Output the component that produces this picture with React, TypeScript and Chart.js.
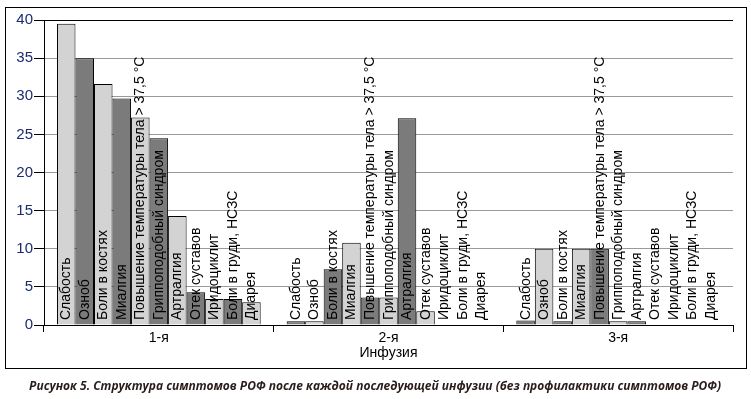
import React, { useEffect, useRef } from 'react';
import { Chart, registerables } from 'chart.js';

Chart.register(...registerables);

const infusions = ['1-я', '2-я', '3-я'];
const symptoms = [
  'Слабость',
  'Озноб',
  'Боли в костях',
  'Миалгия',
  'Повышение температуры тела > 37,5 °C',
  'Гриппоподобный синдром',
  'Артралгия',
  'Отек суставов',
  'Иридоциклит',
  'Боли в груди, НСЗС',
  'Диарея',
];
const infusion1 = [39.5, 35.0, 31.6, 29.7, 27.2, 24.5, 14.3, 4.3, 3.4, 3.4, 3.0];
const infusion2 = [0.5, 0.5, 7.3, 10.8, 3.6, 3.6, 27.1, 1.8, 0, 0, 0];
const infusion3 = [0.6, 10.0, 0.5, 10.0, 10.0, 0.5, 0.5, 0, 0, 0, 0];
const yTicks = [0, 5, 10, 15, 20, 25, 30, 35, 40];
const axisTitle = 'Инфузия';
const caption =
  'Рисунок 5. Структура симптомов РОФ после каждой последующей инфузии (без профилактики симптомов РОФ)';

const LIGHT = '#d3d3d3';
const DARK = '#7b7b7b';
const FONT = 'Arial, "Liberation Sans", Helvetica, sans-serif';

const barLabels = {
  id: 'barLabels',
  afterDatasetsDraw(chart: any) {
    const { ctx, chartArea } = chart;
    ctx.save();
    ctx.fillStyle = '#000';
    ctx.font = `14px ${FONT}`;
    ctx.textAlign = 'left';
    ctx.textBaseline = 'alphabetic';
    chart.data.datasets.forEach((ds: any, i: number) => {
      const meta = chart.getDatasetMeta(i);
      meta.data.forEach((bar: any) => {
        ctx.save();
        ctx.translate(bar.x + 4, chartArea.bottom - 5);
        ctx.rotate(-Math.PI / 2);
        ctx.fillText(ds.label, 0, 0);
        ctx.restore();
      });
    });
    ctx.restore();
  },
};

export default function App() {
  const ref = useRef<HTMLCanvasElement | null>(null);
  const capRef = useRef<HTMLDivElement | null>(null);

  useEffect(() => {
    if (!ref.current) return;
    const values = [infusion1, infusion2, infusion3];
    const datasets = symptoms.map((s, i) => ({
      label: s,
      data: infusions.map((_, g) => values[g][i]),
      backgroundColor: [
        i % 2 === 0 ? LIGHT : DARK,
        i % 2 === 0 ? DARK : LIGHT,
        i % 2 === 0 ? DARK : LIGHT,
      ],
      borderColor: '#000',
      borderWidth: 1,
      barPercentage: 1,
      categoryPercentage: 0.887,
    }));
    const chart = new Chart(ref.current, {
      type: 'bar',
      data: { labels: infusions, datasets },
      plugins: [barLabels],
      options: {
        responsive: false,
        animation: false,
        devicePixelRatio: 1,
        layout: { padding: { top: 20, right: 18, bottom: 34, left: 0 } },
        plugins: {
          legend: { display: false },
          tooltip: { enabled: false },
        },
        scales: {
          x: {
            type: 'category',
            grid: {
              offset: true,
              drawOnChartArea: false,
              drawTicks: true,
              tickLength: 7,
              color: '#000',
              tickColor: '#000',
            },
            border: { color: '#000', width: 1 },
            ticks: {
              color: '#000',
              font: { size: 14, family: FONT },
              padding: -2,
              maxRotation: 0,
            },
            title: {
              display: true,
              text: axisTitle,
              color: '#000',
              font: { size: 14, family: FONT },
              padding: { top: 0, bottom: 3 },
            },
            afterFit: (s: any) => {
              s.height = 40;
            },
          },
          y: {
            min: 0,
            max: 40,
            afterBuildTicks: (s: any) => {
              s.ticks = yTicks.map((v) => ({ value: v }));
            },
            ticks: {
              color: '#1c2b6e',
              font: { size: 15, family: FONT },
              padding: 1,
            },
            grid: {
              color: (c: any) => (c.tick && c.tick.value === 40 ? '#000' : '#9a9a9a'),
              tickColor: '#000',
              tickLength: 10,
              lineWidth: 1,
            },
            border: { color: '#000', width: 1 },
            afterFit: (s: any) => {
              s.width = 44;
            },
          },
        },
      },
    } as any);

    const cap = capRef.current;
    if (cap) {
      const inner = cap.firstChild as HTMLSpanElement;
      const w = inner.getBoundingClientRect().width;
      if (w > 0) inner.style.transform = `scaleX(${692 / w})`;
    }
    return () => chart.destroy();
  }, []);

  return (
    <div style={{ position: 'absolute', left: 0, top: 0, width: 751, height: 399, background: '#fff' }}>
      <canvas ref={ref} width={751} height={399} style={{ position: 'absolute', left: 0, top: 0 }} />
      <div
        style={{
          position: 'absolute',
          left: 5,
          top: 7,
          width: 740,
          height: 360,
          border: '1px solid #000',
          pointerEvents: 'none',
        }}
      />
      <div
        ref={capRef}
        style={{
          position: 'absolute',
          left: 0,
          top: 376,
          width: 751,
          textAlign: 'center',
          whiteSpace: 'nowrap',
        }}
      >
        <span
          style={{
            display: 'inline-block',
            transformOrigin: 'center',
            fontFamily: '"Open Sans", sans-serif',
            fontWeight: 'bold',
            fontStyle: 'italic',
            fontSize: 13,
            lineHeight: '18px',
            color: '#2a1c1c',
          }}
        >
          {caption}
        </span>
      </div>
    </div>
  );
}
